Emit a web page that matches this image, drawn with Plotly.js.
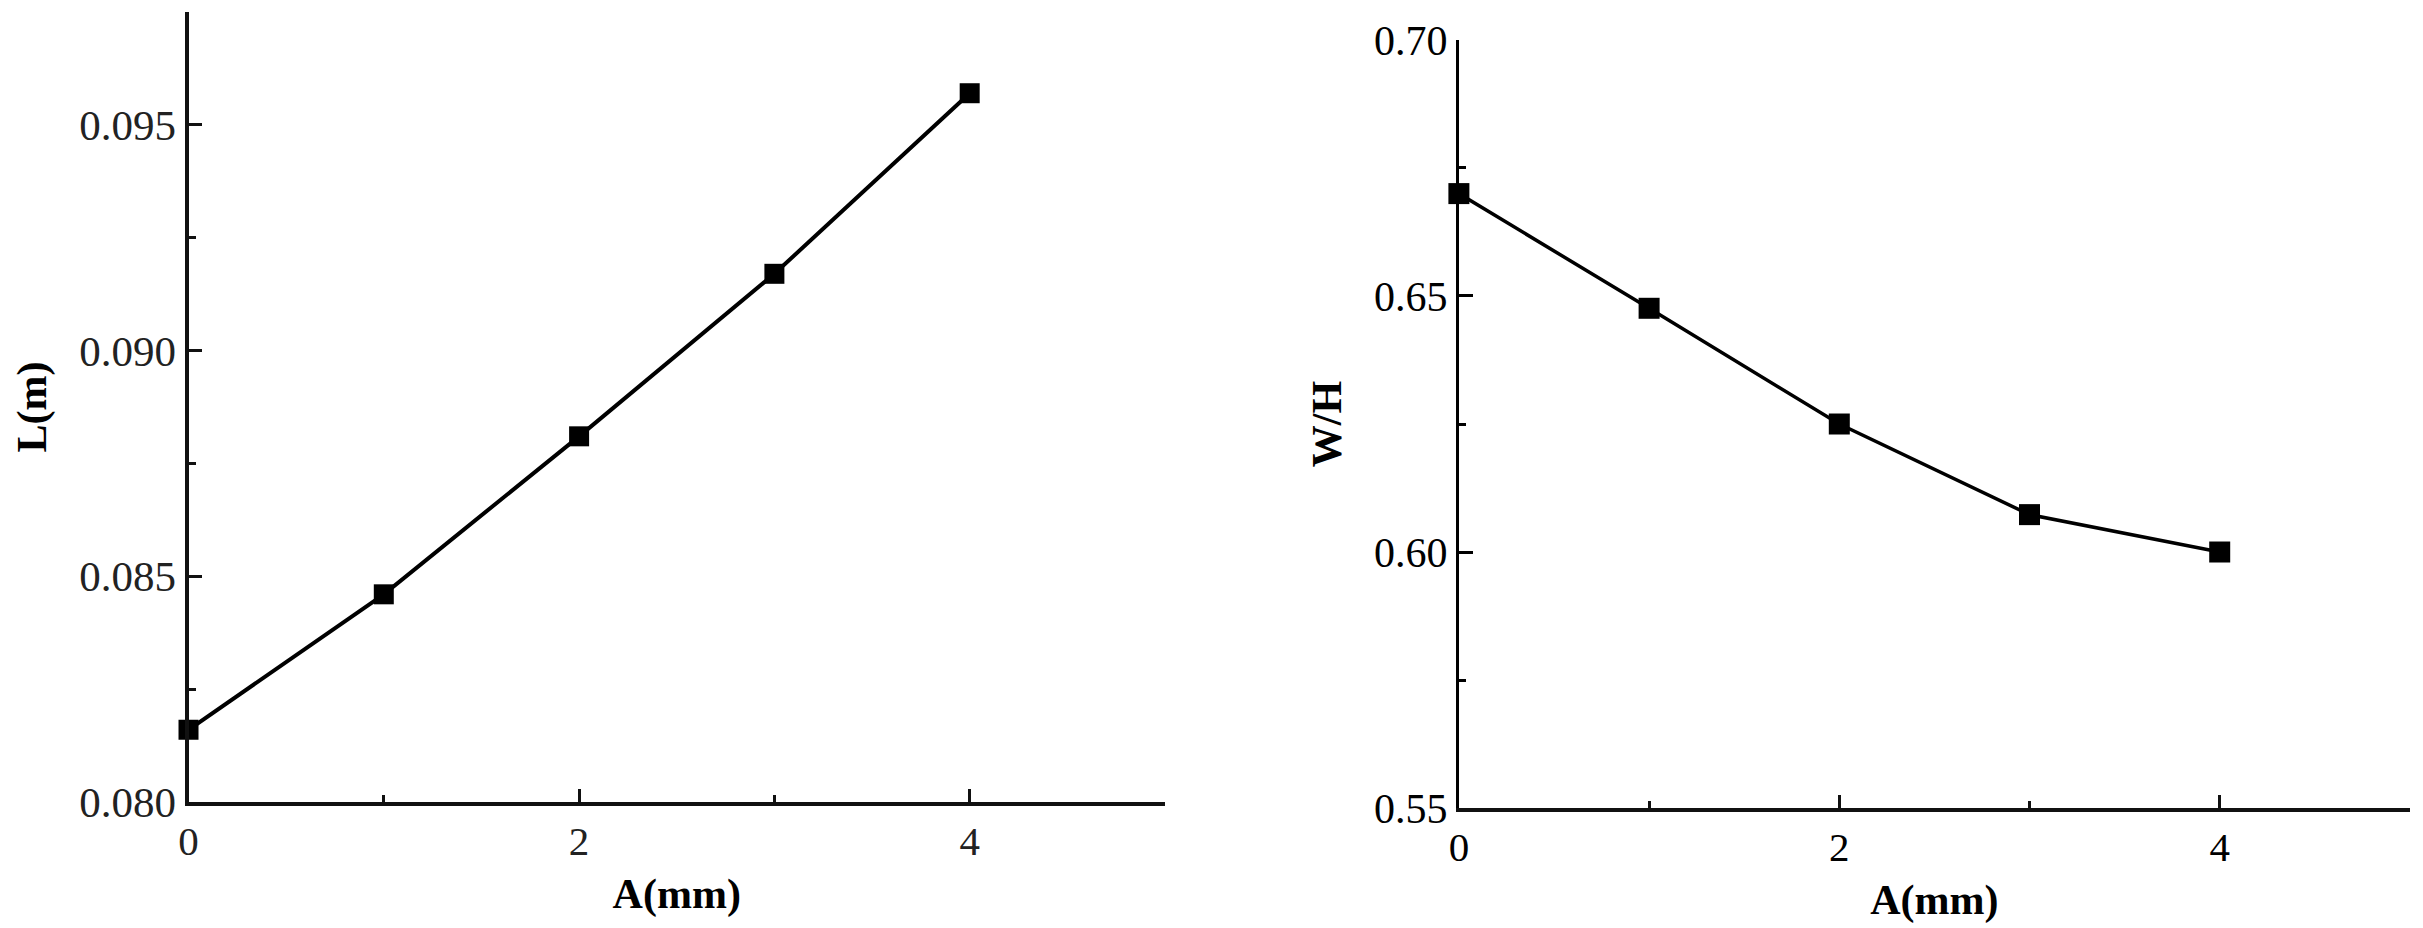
<!DOCTYPE html>
<html>
<head>
<meta charset="utf-8">
<script src="https://cdn.plot.ly/plotly-3.0.1.min.js"></script>
<style>html,body{margin:0;padding:0;background:#fff;}#chart{width:2423px;height:928px;}</style>
</head>
<body>
<div id="chart"></div>
<script>
// Data
const amplitude = [0, 1, 2, 3, 4];            // A (mm)
const lengthL = [0.0816, 0.0846, 0.0881, 0.0917, 0.0957];  // L (m)
const ratioWH = [0.670, 0.6476, 0.625, 0.6073, 0.600];    // W/H

const leftTickVals = [0.080, 0.085, 0.090, 0.095];
const leftTickText = ['0.080', '0.085', '0.090', '0.095'];
const rightTickVals = [0.55, 0.60, 0.65, 0.70];
const rightTickText = ['0.55', '0.60', '0.65', '0.70'];
const xTickVals = [0, 2, 4];
const xTickText = ['0', '2', '4'];

const serif = 'Liberation Serif, Times New Roman, serif';

const traces = [
  {x: amplitude, y: lengthL, xaxis: 'x', yaxis: 'y', type: 'scatter', mode: 'lines+markers',
   line: {color: '#000', width: 4}, marker: {symbol: 'square', size: 20, color: '#000'}, cliponaxis: false},
  {x: amplitude, y: ratioWH, xaxis: 'x2', yaxis: 'y2', type: 'scatter', mode: 'lines+markers',
   line: {color: '#000', width: 3.5}, marker: {symbol: 'square', size: 21, color: '#000'}, cliponaxis: false}
];

function xAxis(domain, anchor, tickColor) {
  return {
    domain: domain, anchor: anchor, range: [0, 5], showgrid: false, zeroline: false,
    showline: true, linecolor: '#111', linewidth: 4, mirror: false,
    tickmode: 'array', tickvals: xTickVals, ticktext: xTickText,
    ticks: 'inside', ticklen: 13, tickwidth: 3, tickcolor: '#111',
    minor: {ticks: 'inside', ticklen: 7, tickwidth: 3, tickcolor: '#111', dtick: 1, tick0: 0, showgrid: false},
    tickfont: {family: serif, size: 41, color: tickColor},
    title: {text: '<b>A(mm)</b>', font: {family: serif, size: 42, color: '#000'}, standoff: 16}
  };
}

const layout = {
  width: 2423, height: 928,
  margin: {l: 0, r: 0, t: 0, b: 0},
  paper_bgcolor: '#ffffff', plot_bgcolor: 'rgba(0,0,0,0)',
  showlegend: false,
  xaxis: xAxis([0.0778, 0.4808], 'y', '#222'),
  yaxis: {
    domain: [0.1358, 0.9871], anchor: 'x', range: [0.080, 0.0975], showgrid: false, zeroline: false,
    showline: true, linecolor: '#111', linewidth: 4,
    tickmode: 'array', tickvals: leftTickVals, ticktext: leftTickText,
    ticks: 'inside', ticklen: 13, tickwidth: 3, tickcolor: '#111',
    minor: {ticks: 'inside', ticklen: 7, tickwidth: 3, tickcolor: '#111', dtick: 0.0025, tick0: 0.080, showgrid: false},
    tickfont: {family: serif, size: 43, color: '#222'},
    title: {text: '<b>L(m)</b>', font: {family: serif, size: 42, color: '#000'}, standoff: 20}
  },
  xaxis2: xAxis([0.6021, 0.9946], 'y2', '#000'),
  yaxis2: {
    domain: [0.1293, 0.9569], anchor: 'x2', range: [0.55, 0.70], showgrid: false, zeroline: false,
    showline: true, linecolor: '#000', linewidth: 3,
    tickmode: 'array', tickvals: rightTickVals, ticktext: rightTickText,
    ticks: 'inside', ticklen: 14, tickwidth: 3, tickcolor: '#000',
    minor: {ticks: 'inside', ticklen: 7, tickwidth: 3, tickcolor: '#000', dtick: 0.025, tick0: 0.55, showgrid: false},
    tickfont: {family: serif, size: 42, color: '#000'},
    title: {text: '<b>W/H</b>', font: {family: serif, size: 42, color: '#000'}, standoff: 20}
  }
};

Plotly.newPlot('chart', traces, layout, {staticPlot: true, displayModeBar: false});
</script>
</body>
</html>
